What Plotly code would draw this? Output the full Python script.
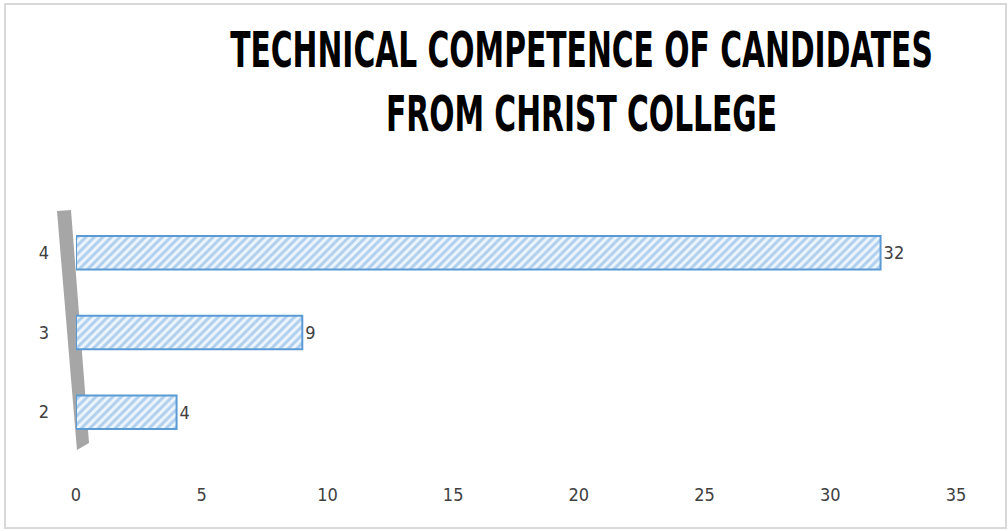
import plotly.graph_objects as go

categories = ["2", "3", "4"]
values = [4, 9, 32]
x_ticks = [0, 5, 10, 15, 20, 25, 30, 35]
title_lines = ["TECHNICAL COMPETENCE OF CANDIDATES", "FROM CHRIST COLLEGE"]

W, H = 1008, 531
L, R, T, B = 76, 52, 213, 79
pw, ph = W - L - R, H - T - B

def px(x):
    return (x - L) / pw

def py(y):
    return (H - B - y) / ph

narrow = "DejaVu Sans Condensed, DejaVu Sans, sans-serif"

fig = go.Figure()
fig.add_trace(go.Bar(
    y=categories, x=values, orientation="h",
    width=0.42,
    marker=dict(
        color="#e3eef9",
        line=dict(color="#5b9bd5", width=2),
        pattern=dict(shape="/", fgcolor="#72aadf", bgcolor="#eef5fc", size=6, solidity=0.5),
    ),
    text=[str(v) for v in values], textposition="outside",
    textfont=dict(family=narrow, size=18, color="#404040"),
    cliponaxis=False,
    hoverinfo="skip",
))

# slanted gray wall (decoration)
wall = [(57, 211), (71, 210), (89, 443), (77, 450)]
path = "M " + " L ".join(f"{px(a):.4f},{py(b):.4f}" for a, b in wall) + " Z"
fig.add_shape(type="path", path=path, xref="paper", yref="paper",
              fillcolor="#a6a6a6", line=dict(width=0), layer="below")

# outer border
fig.add_shape(type="rect", xref="paper", yref="paper",
              x0=px(5), x1=px(1006), y0=py(528), y1=py(4),
              line=dict(color="#d9d9d9", width=2), fillcolor="rgba(0,0,0,0)")

TITLE_CX, TITLE_W = 581.5, 703

fig.update_layout(
    width=W, height=H,
    margin=dict(l=L, r=R, t=T, b=B, autoexpand=False),
    paper_bgcolor="white", plot_bgcolor="white",
    showlegend=False,
    bargap=0.58,
    title=dict(
        text="<b>" + "<br>".join(title_lines) + "</b>",
        x=TITLE_CX / W, xref="container", xanchor="center",
        y=1 - 67 / H, yref="container", yanchor="top",
        font=dict(family=narrow, size=49, color="#000000"),
    ),
    xaxis=dict(
        range=[0, 35], tickvals=x_ticks, ticktext=[str(t) for t in x_ticks],
        showgrid=False, zeroline=False, showline=False, ticks="",
        tickfont=dict(family=narrow, size=18, color="#404040"),
        ticklabelstandoff=30,
    ),
    yaxis=dict(
        categoryorder="array", categoryarray=categories,
        showgrid=False, zeroline=False, showline=False, ticks="",
        tickfont=dict(family=narrow, size=18, color="#404040"),
        ticklabelstandoff=26,
    ),
    font=dict(family=narrow),
)

post = """
document.body.style.margin = '0';
var gd = document.getElementById('{plot_id}');
var t = gd.querySelector('.gtitle');
if (t) {
  var bb = t.getBBox();
  var cx = bb.x + bb.width / 2;
  var s = %f / bb.width;
  t.setAttribute('transform', 'translate(' + cx + ',0) scale(' + s + ',1) translate(' + (-cx) + ',0)');
}
""" % TITLE_W

fig.write_html("out.html", post_script=post, config={"displayModeBar": False})
